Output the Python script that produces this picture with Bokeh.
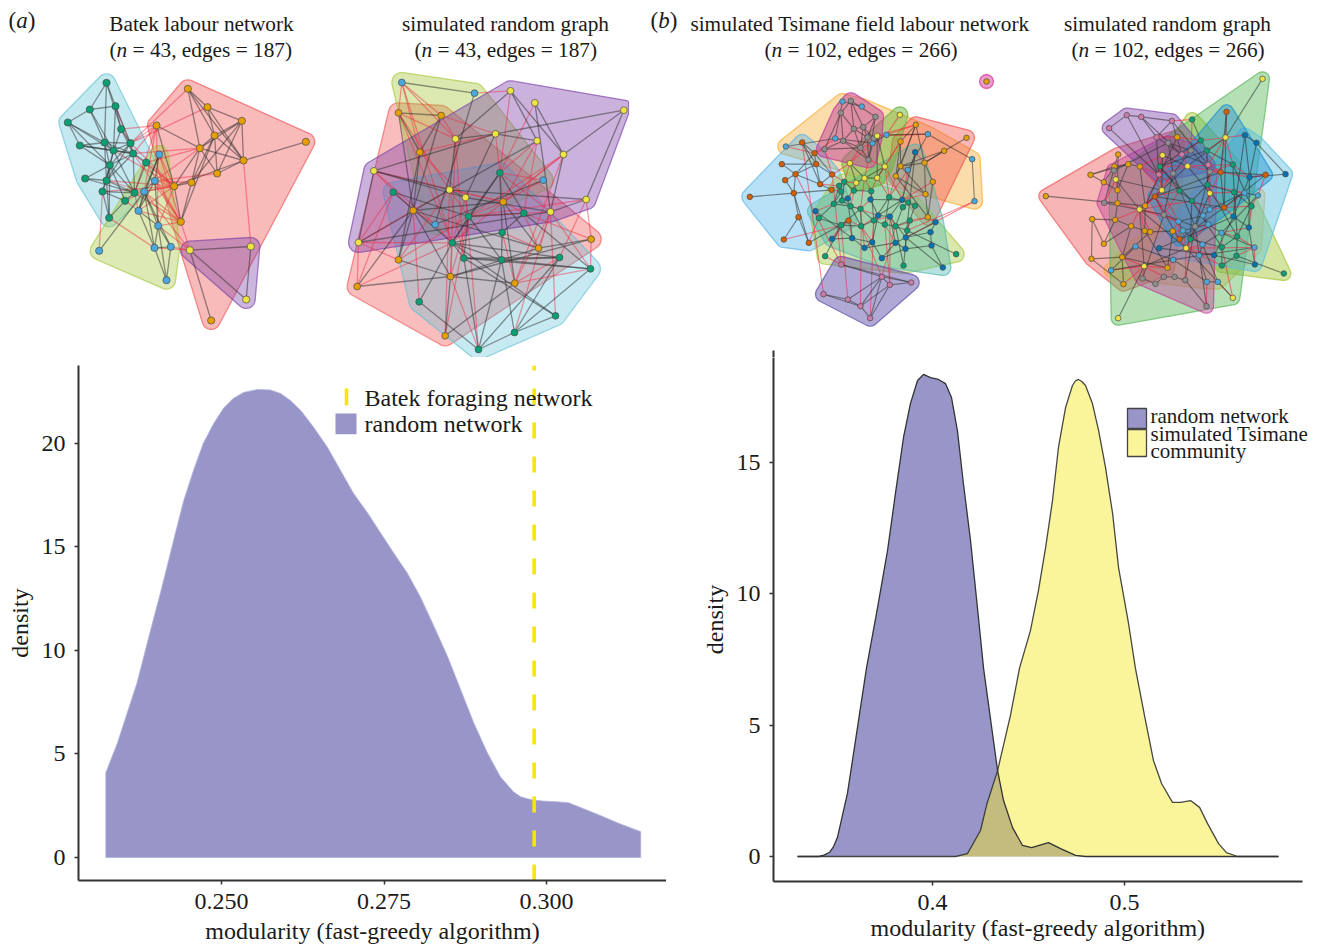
from bokeh.plotting import figure
from bokeh.layouts import row, column
from bokeh.models import Range1d, FixedTicker, Title
from bokeh.core.properties import value
from bokeh.embed import file_html
from bokeh.resources import INLINE
import math

SERIF = "Liberation Serif"

# ---------------- density data ----------------
mod_a = [.2322,.2340,.2355,.2370,.2383,.2395,.2406,.2416,.2429,.2442,.2457,.2472,.2488,.2503,.2518,.2534,.2555,.2575,.2591,.2606,.2622,.2642,.2663,.2683,.2703,.2725,.2745,.2765,.2786,.2806,.2826,.2848,.2868,.2888,.2909,.2929,.2949,.2960,.2971,.2982,.2998,.3014,.3034,.3057,.3080,.3112,.3145]
dens_a = [4.10,5.54,6.99,8.43,10.02,11.47,12.77,14.02,15.66,17.25,18.7,20.0,20.96,21.69,22.17,22.46,22.6,22.58,22.41,22.07,21.59,20.77,19.81,18.7,17.59,16.63,15.66,14.7,13.73,12.58,11.23,9.69,8.1,6.51,5.06,3.9,3.18,2.94,2.84,2.77,2.72,2.7,2.65,2.36,2.07,1.64,1.25]
batek_value = 0.2981

mod_rand = [0.3297,0.3406,0.3435,0.3464,0.3485,0.3505,0.3557,0.3583,0.3656,0.3714,0.3766,0.3807,0.3849,0.3885,0.3922,0.3953,0.3990,0.4031,0.4068,0.4099,0.4130,0.4161,0.4198,0.4234,0.4266,0.4339,0.4370,0.4417,0.4469,0.4516,0.4604,0.4667,0.4745,0.4797,0.5802]
dens_rand = [0,0,0.05,0.16,0.38,0.73,2.4,3.65,7.16,9.48,11.65,13.82,15.95,17.24,18.12,18.35,18.23,18.16,18.0,17.47,16.2,14.2,12.03,9.48,7.16,3.27,2.13,1.1,0.42,0.34,0.53,0.3,0.04,0,0]
mod_tsi = [0.3297,0.4016,0.4120,0.4182,0.4250,0.4284,0.4339,0.4406,0.4453,0.4510,0.4552,0.4589,0.4625,0.4656,0.4693,0.4729,0.4744,0.4760,0.4778,0.4797,0.4833,0.4865,0.4901,0.4938,0.4969,0.5021,0.5057,0.5104,0.5151,0.5193,0.5250,0.5292,0.5344,0.5391,0.5432,0.5490,0.5531,0.5589,0.5656,0.5802]
dens_tsi = [0,0,0,0.11,0.99,2.02,3.27,5.37,7.16,8.6,10.13,11.76,13.55,15.57,17.09,17.93,18.1,18.16,18.08,17.93,17.24,16.22,14.81,13.06,11.0,8.87,7.16,5.37,3.65,2.78,2.06,2.06,2.13,1.87,1.26,0.49,0.15,0,0,0]

xticks_a = [0.25,0.275,0.30]
xlabels_a = ["0.250","0.275","0.300"]
yticks_a = [0,5,10,15,20]
xticks_b = [0.4,0.5]
xlabels_b = ["0.4","0.5"]
yticks_b = [0,5,10,15]

# ---------------- network (a) Batek ----------------
nodes_a = {
 "g":[(318,247),(268,327),(345,317),(202,366),(362,386),(238,435),(312,426),(390,428),(339,450),(398,459),(437,486),(328,494),(254,534),(318,540),(306,573),(402,577),(374,601),(326,652)],
 "b":[(476,462),(463,541),(431,573),(414,631),(473,676),(462,742),(511,739),(296,751),(498,839)],
 "o":[(562,265),(621,320),(724,361),(468,375),(642,405),(916,424),(598,443),(729,480),(650,519),(573,546),(521,557),(541,664),(632,960)],
 "y":[(568,749),(751,738),(737,897)],
}
dark_a = "g0-g1 g0-g2 g0-g4 g1-g2 g1-g3 g1-g6 g2-g4 g2-g7 g3-g5 g3-g6 g3-g8 g4-g7 g4-g9 g5-g6 g5-g8 g5-g11 g6-g8 g6-g7 g6-g9 g7-g8 g7-g9 g7-g11 g8-g9 g8-g11 g8-g13 g9-g10 g9-g11 g9-g15 g11-g12 g11-g13 g11-g14 g12-g13 g12-g15 g13-g14 g13-g17 g13-g15 g14-g15 g14-g16 g14-g17 g16-g17 g15-g16 g8-g15 g11-g15 g10-g15 g0-g6 g1-g8 g2-g8 g3-g11 g5-g9 g6-g11 g6-g13 g7-g13 g4-g8 g9-g13 g11-g16 g11-g17 o0-o4 o0-o6 o0-o1 o1-o2 o1-o4 o1-o7 o2-o4 o2-o6 o2-o7 o2-o8 o3-o6 o4-o6 o4-o7 o4-o8 o4-o9 o5-o7 o6-o7 o6-o8 o6-o9 o6-o10 o7-o8 o7-o10 o9-o10 o9-o11 o4-o11 o10-o11 o0-o7 o2-o9 o3-o10 b0-b1 b0-b2 b1-b2 b2-b3 b2-b4 b3-b4 b3-b5 b4-b5 b4-b6 b4-b8 b5-b6 b5-b8 b6-b8 b1-b3 b2-b5 b2-b6 b1-b4 b7-b2 b0-b3 y0-y1 y0-y2 y1-y2 y0-o12"
red_a = "o3-g4 o3-g7 o3-g9 o0-g7 o1-g7 o6-g9 o6-g10 o10-g7 o10-g9 o10-g10 o10-g15 o10-b0 o10-b1 o10-b2 o11-g9 o11-g10 o11-g15 o11-b0 o11-b1 o11-b2 o11-b3 o11-b4 o3-b2 o3-g15 o7-y1 y0-b4 y0-b5 y0-b6 y0-o11 y0-b2 g17-b5 g14-b7 g2-g9 g8-o10 g13-o10 g14-o10 g16-b3 g16-b2 g15-b3 g13-b2 o9-b1 o8-b1 o6-b1 o10-b4 o3-b4 o10-b3"

# ---------------- network (a) random graph ----------------
nodes_r = {
 "b":[(214,246),(432,278),(638,539),(314,672)],
 "y":[(540,271),(613,307),(880,329),(375,415),(495,400),(620,421),(699,462),(130,511),(357,568),(405,591),(767,597),(660,634),(84,726)],
 "o":[(204,337),(332,345),(268,455),(518,604),(248,630),(782,716),(624,743),(204,778),(360,828),(553,848),(80,858),(344,1006)],
 "g":[(508,517),(188,575),(414,648),(580,638),(515,696),(365,727),(400,773),(513,778),(687,771),(780,805),(266,904),(675,946),(552,996),(444,1047)],
}
dark_r = "y0-y6 y0-y5 y1-y6 y1-y11 y2-y4 y2-y6 y2-y10 y3-y0 y3-y4 y3-y8 y4-y5 y5-y8 y7-y12 y7-y8 y7-y9 y7-y4 y8-y9 y8-y10 y9-y11 y10-y11 y12-y8 y12-y11 y6-y11 y4-y9 o0-o1 o0-o2 o0-o4 o1-o2 o1-o4 o2-o4 o2-o7 o4-o3 o4-o7 o4-o10 o4-o6 o3-o6 o3-o9 o5-o6 o5-o8 o8-o10 o8-o9 o7-o8 o11-o9 o11-o8 o4-o8 o6-o8 g0-g2 g0-g3 g0-g4 g0-g5 g1-g5 g1-g2 g2-g3 g2-g5 g2-g6 g2-g7 g3-g4 g4-g5 g4-g7 g5-g6 g5-g10 g5-g7 g5-g11 g6-g8 g6-g7 g6-g9 g6-g13 g7-g8 g7-g9 g7-g12 g8-g12 g8-g13 g5-g8 g9-g12 g10-g13 g11-g12 g11-g6 g12-g13 g13-g7 g3-g9 b0-b1 b2-b3 b1-b3"
red_r = "b0-o0 b0-o1 b0-o2 b0-y3 b0-g5 b1-y0 y3-o1 y3-o0 y3-g6 y4-g0 y4-o2 y0-g0 y1-g0 y5-g0 y5-g3 y6-o3 y6-g2 y6-g5 y7-o4 y7-o3 y7-b3 y8-o0 y8-o4 y8-g2 y8-g6 y8-o3 y9-g2 y9-o2 y9-g5 y10-g8 y10-o5 y10-g2 y11-g0 y11-g9 y11-o6 y11-g2 y12-g5 y12-o4 y12-g1 y12-o10 y12-o7 o3-g0 o3-g2 o3-g3 o5-g3 o5-g9 o6-g3 o6-g4 o9-g8 o9-y11 o9-y6 o9-g4 o9-g9 o8-g5 o8-y3 o8-g2 o8-g13 o7-y8 o7-g2 o10-g1 o10-g5 o11-g2 o11-y8 o4-g10 g11-y11 g13-y9 g12-y11 b2-g0 b2-o3 b3-o4 b3-g5 o0-g5 o1-y4 y5-o3"

# ---------------- network (b) Tsimane ----------------
nodes_c = {
 "s":[(576,303),(634,318),(554,414),(708,403),(666,428),(406,438),(832,401),(772,508),(965,476),(972,602)],
 "a":[(601,301),(571,337),(675,349),(610,385),(638,380),(578,421),(522,446),(651,411),(670,414),(630,442),(654,478)],
 "v":[(455,426),(492,458),(497,491),(394,491),(435,521),(404,539),(545,522),(509,551),(430,578),(543,568),(298,589),(444,650),(400,717),(475,727),(594,660)],
 "y":[(748,343),(680,406),(598,488),(703,498),(642,533),(680,532),(617,547)],
 "o":[(796,373),(948,412),(881,451),(822,487),(750,423),(750,497),(736,527),(847,544),(825,581),(832,650)],
 "t":[(566,556),(581,544),(572,573),(550,610),(575,600),(600,617),(630,625),(610,570),(662,572),(716,590),(757,620),(773,606),(793,616),(505,653),(572,674),(632,677),(670,660),(703,672),(735,677),(778,660),(770,690),(524,767),(759,795),(917,761)],
 "b":[(794,455),(755,598),(660,597),(592,594),(495,632),(545,715),(605,713),(665,725),(642,742),(694,773),(683,645),(718,648),(855,665),(840,695),(766,711),(735,727),(843,735),(765,745),(877,801)],
 "p":[(572,792),(694,829),(718,853),(782,846),(519,881),(592,897),(630,917),(659,953)],
 "q":[(1008,243)],
}
dark_c = "a0-a1 a0-a2 a0-a3 a0-a4 a1-a3 a1-a5 a1-a6 a2-a4 a2-a7 a3-a4 a3-a5 a3-a9 a4-a7 a4-a9 a5-a6 a5-a9 a5-a10 a6-a9 a7-a9 a7-a10 a9-a10 a2-a10 a3-a7 a8-a10 a8-a4 s0-s2 s0-s1 s5-s2 s3-s4 s6-s8 s8-s9 s6-s7 s4-s2 s3-s6 v0-v1 v0-v2 v1-v2 v1-v4 v2-v3 v2-v4 v2-v7 v3-v4 v4-v5 v4-v7 v4-v8 v5-v8 v6-v7 v7-v9 v8-v10 v8-v9 v8-v11 v8-v13 v11-v12 v13-v11 v2-v6 v0-v7 v1-v6 v14-v13 y2-y4 y2-y6 y3-y5 y4-y5 y4-y6 y3-y4 y1-y3 y1-y5 o0-o4 o0-o3 o0-o5 o0-o6 o1-o3 o2-o3 o2-o5 o3-o5 o3-o8 o5-o6 o5-o8 o6-o8 o4-o5 o7-o9 o7-o3 o8-o9 o6-o9 o4-o6 t0-t1 t0-t2 t1-t7 t2-t3 t2-t4 t3-t4 t3-t5 t4-t5 t5-t6 t5-t15 t6-t15 t6-t16 t7-t8 t8-t16 t13-t14 t13-t3 t14-t15 t15-t16 t16-t17 t17-t18 t18-t19 t18-t20 t19-t20 t9-t11 t11-t12 t9-t17 t12-t19 t21-t14 t22-t20 t23-t20 t22-t18 t16-t9 t1-t4 t0-t3 t6-t14 t10-t11 t10-t18 b1-b10 b1-b11 b2-b10 b3-b6 b4-b6 b5-b6 b6-b7 b6-b8 b7-b8 b7-b9 b8-b15 b9-b15 b9-b17 b10-b11 b10-b7 b11-b15 b11-b14 b12-b13 b13-b14 b13-b16 b14-b15 b14-b17 b15-b17 b16-b17 b16-b18 b14-b18 b0-b1 b0-b14 b12-b14 b2-b1 p0-p1 p0-p3 p1-p2 p2-p3 p1-p3 p1-p5 p1-p6 p2-p7 p4-p5 p5-p6 p6-p7 p1-p7 p4-p6 p2-p6"
red_c = "s5-v1 s2-v1 v0-p4 v4-p0 v6-p0 t21-p0 p5-t14 p6-t15 p7-t16 p1-t15 p2-t17 p1-t18 p2-b11 s9-b14 v12-t14 v13-t13 v9-t0 v9-t2 v7-t0 v6-t1 y2-t1 y2-v6 y6-t1 y6-t7 y6-t5 y4-t8 y5-t8 y3-b1 y3-t9 y0-s3 y1-a7 y1-s6 y1-o0 s3-o0 s4-a9 s4-y2 s2-a5 s7-b1 s7-t9 s7-o5 b0-o3 o6-t9 o7-b1 o8-b1 o9-t19 o9-b12 o9-t18 t5-b10 t6-b8 t15-b10 t16-b10 t17-b11 t18-b11 t17-b15 t15-b7 t16-b7 t19-b14 t6-b2 t8-b2 t11-b1 t3-b4 t13-b4 t14-b5 v14-t14 v14-t15 v14-b5 v14-b6 a10-y4 a10-y3 a6-v1 a6-v6 a9-y2 b3-t4 b3-t7 y4-t6 y5-t9 y6-b3 t16-b11 s9-t20 o4-y3 o4-y5"

# ---------------- network (b) random graph ----------------
nodes_d = {
 "o":[(76,587),(210,523),(293,462),(282,498),(323,491),(250,545),(291,569),(291,608),(374,616),(215,656),(284,658),(250,730),(332,677),(373,691),(389,694),(457,692),(213,775),(305,770),(309,851),(441,802),(358,498),(470,410)],
 "y":[(726,235),(615,411),(426,464),(501,497),(286,537),(424,569),(568,578),(357,627),(497,743),(371,797),(293,953),(637,892)],
 "a":[(251,607),(458,519),(511,450),(443,427),(568,514),(430,643),(524,678),(366,834),(405,850),(430,829),(462,829),(494,839),(558,917),(280,510)],
 "p":[(266,383),(319,344),(362,349),(454,361),(408,410),(484,462),(415,522),(563,493)],
 "t":[(515,357),(541,420),(559,450),(418,498),(637,492),(477,571),(561,553),(514,601),(641,575),(693,617),(650,708),(648,766),(604,795),(510,716),(604,740),(790,819)],
 "v":[(618,334),(600,515),(735,523),(611,621),(403,588),(477,716)],
 "b":[(673,404),(708,427),(795,521),(687,530),(639,648),(685,681),(703,792),(581,764),(416,743)],
 "s":[(672,577),(712,585),(568,627),(548,645),(474,663),(563,672),(487,690),(603,697),(702,741),(345,738),(546,732),(536,765),(458,778),(272,809),(559,844),(592,844)],
}
dark_d = "o0-o7 o1-o3 o1-o4 o1-o5 o2-o3 o2-o6 o3-o4 o3-o5 o4-o6 o4-o20 o5-o6 o6-o7 o7-o8 o7-o10 o9-o10 o9-o11 o9-o16 o10-o12 o10-o11 o11-o12 o12-o13 o13-o14 o14-o15 o16-o17 o16-o18 o17-o18 o17-o19 o8-o13 o8-o20 o8-o21 o12-o17 o13-o19 o14-o17 o15-o19 y0-y1 y10-y9 y1-y3 y2-y3 y2-y5 y3-y5 y3-y6 y5-y7 y6-y8 y7-y8 y7-y9 y8-y9 y4-y5 y4-y7 y8-y11 a0-a13 a0-a5 a1-a2 a1-a3 a2-a3 a2-a4 a1-a5 a1-a6 a4-a6 a5-a6 a7-a8 a8-a9 a9-a10 a10-a11 a11-a12 a6-a12 a5-a7 a6-a11 a3-a13 p0-p1 p1-p2 p2-p3 p3-p5 p1-p6 p2-p4 p2-p5 p4-p5 p4-p6 p5-p7 p3-p7 p0-p6 p3-p4 t0-t1 t1-t2 t1-t3 t2-t3 t2-t6 t2-t4 t3-t5 t3-t7 t5-t6 t5-t7 t6-t7 t4-t8 t6-t8 t8-t9 t8-t10 t9-t10 t10-t11 t10-t14 t11-t12 t12-t14 t7-t13 t13-t14 t7-t14 t11-t15 t4-t9 t6-t10 v0-v1 v0-v3 v1-v2 v1-v3 v2-v3 v3-v5 v4-v5 v1-v4 v3-v4 b0-b1 b0-b3 b1-b2 b1-b3 b2-b3 b3-b4 b3-b5 b4-b5 b5-b6 b4-b7 b6-b7 b7-b8 b4-b8 b0-b4 s0-s1 s0-s2 s2-s3 s3-s4 s3-s5 s4-s6 s5-s6 s5-s7 s6-s10 s7-s10 s7-s8 s10-s11 s11-s12 s9-s12 s9-s13 s13-s12 s11-s14 s14-s15 s10-s15 s12-s14 s8-s11 s1-s7"
red_d = "o8-a1 o8-p6 o8-y5 o20-p6 o20-y5 o21-p4 o13-y7 o14-y7 o15-y8 o15-s4 o15-s6 o19-y9 o19-s12 o18-y9 o12-y7 o17-y9 o10-y7 o7-y7 o3-y4 o6-y4 y5-p6 y5-a1 y5-t3 y3-p6 y3-p5 y3-t3 y3-v1 y3-t4 y1-t1 y1-v0 y1-b0 y1-t2 y1-v1 y1-t4 y1-p7 y6-v1 y6-t6 y6-t8 y6-s2 y6-a4 y6-v3 y7-a5 y7-v4 y7-t7 y7-s4 y8-s5 y8-s6 y8-s10 y8-t13 y8-b7 y8-v5 y8-s8 y8-t12 y11-s15 y11-t14 s0-t6 s0-t8 s0-v3 s1-t9 s1-v2 s2-t6 s2-v3 s2-t7 s3-t7 s4-v5 s5-t13 s7-t14 s7-t10 s8-t10 s8-b6 s8-t11 b3-v1 b3-t4 b3-v2 b4-v3 b4-t8 b5-t9 b5-s7 t5-a1 t5-p6 t6-a4 t6-p7 t3-p6 t2-p7 t1-p5 t0-a2 t0-p3 a4-v1 a4-t4 a6-s5 a6-t13 a5-s4 a5-v4 a5-t5 a9-y9 a12-s14 a11-y8 a7-y9 o21-t1 p5-a2 p7-v1 p7-a4 v5-s6 v4-a5 v4-t5 v3-t9 y5-o8 y2-o20 y2-p6 y2-t3 y4-a0 y9-s13 s4-y5 s6-v4"

# ---------------- colours ----------------
NODE = {"green":"#0A9E73","sky":"#4AA8DC","orange":"#E69F00","yellow":"#F0E442","verm":"#D55E00","gray":"#8E8E8E","blue":"#0072B2","pink":"#CC79A7"}
DARK_EDGE = "#2B2B2B"
RED_EDGE = "#F02840"
PURPLE = "#9896C8"
TSI_YELLOW = "#F4E828"
LINE_YELLOW = "#F7E60C"
AXIS = "#333333"
TEXT = "#1A1A1A"


def convex_hull(pts):
    pts = sorted(set(pts))
    if len(pts) < 3:
        return pts
    def half(seq):
        h = []
        for p in seq:
            while len(h) >= 2 and (h[-1][0]-h[-2][0])*(p[1]-h[-2][1]) - (h[-1][1]-h[-2][1])*(p[0]-h[-2][0]) <= 0:
                h.pop()
            h.append(p)
        return h[:-1]
    return half(pts) + half(pts[::-1])


def rounded(pts, r):
    """outline of the hull grown by r, with round corners"""
    h = convex_hull(pts)
    if len(h) == 1:
        return ([h[0][0]+r*math.cos(i/12*2*math.pi) for i in range(12)],
                [h[0][1]+r*math.sin(i/12*2*math.pi) for i in range(12)])
    xs, ys = [], []
    n = len(h)
    for i in range(n):
        p0, p1, p2 = h[i-1], h[i], h[(i+1) % n]
        a0 = math.atan2(p1[1]-p0[1], p1[0]-p0[0]) - math.pi/2
        a1 = math.atan2(p2[1]-p1[1], p2[0]-p1[0]) - math.pi/2
        while a1 < a0:
            a1 += 2*math.pi
        steps = 8
        for k in range(steps+1):
            a = a0 + (a1-a0)*k/steps
            xs.append(p1[0]+r*math.cos(a))
            ys.append(p1[1]+r*math.sin(a))
    return xs, ys


def draw_net(p, nodes, ox, dark, red, hulls, ncol, node_r, grow, edge_alpha=0.5, red_alpha=0.45, clip=None, w=1.3):
    P = {}
    for k, lst in nodes.items():
        for i, (x, y) in enumerate(lst):
            P[f"{k}{i}"] = (ox + x/3, y/3)
    for k in hulls:
        pts = [(ox + x/3, y/3) for x, y in nodes[k]]
        hx, hy = rounded(pts, grow if len(pts) > 1 else 7)
        if clip:
            hx = [min(v, clip) for v in hx]
        col, al = hulls[k]
        p.patch(hx, hy, fill_color=col, fill_alpha=al, line_color=col, line_alpha=min(1, al+0.25), line_width=1.3)
    for edges, col, al in ((red, RED_EDGE, red_alpha), (dark, DARK_EDGE, edge_alpha)):
        pairs = [e.split("-") for e in edges.split()]
        p.segment([P[a][0] for a, b in pairs], [P[a][1] for a, b in pairs],
                  [P[b][0] for a, b in pairs], [P[b][1] for a, b in pairs],
                  line_color=col, line_alpha=al, line_width=w)
    for k, lst in nodes.items():
        xs = [ox + x/3 for x, y in lst]
        ys = [y/3 for x, y in lst]
        p.scatter(xs, ys, size=node_r*2, fill_color=NODE[ncol[k]], line_color="#4A4A4A", line_width=0.7)


def txt(p, x, y, s, size, italic=False, align="left"):
    p.text([x], [y], text=[s], text_font=value(SERIF), text_font_size=f"{size}px",
           text_color=TEXT, text_baseline="middle", text_align=align,
           text_font_style="italic" if italic else "normal")


def paren_line(p, x, y, sym, rest, size, gap=0.0):
    """'(' + italic symbol + rest, advancing with Times metrics"""
    txt(p, x, y, "(", size)
    txt(p, x+0.333*size, y, sym, size, italic=True)
    txt(p, x+(0.833+gap)*size, y, rest, size)


def blank(w, h, xr, yr, **kw):
    p = figure(width=w, height=h, x_range=Range1d(*xr), y_range=Range1d(*yr),
               x_axis_location=None, y_axis_location=None, toolbar_location=None,
               output_backend="svg", min_border=0, outline_line_color=None, frame_align=False, **kw)
    p.grid.visible = False
    return p


TS = 21.3
# top-left panel, range in page pixels
top_a = blank(648, 357, (0, 648), (357, 0))
draw_net(top_a, nodes_a, 0, dark_a, red_a,
         {"o":("#F05A5A",0.42), "g":("#5BBFD6",0.36), "b":("#A5C83C",0.38), "y":("#7A3FA8",0.38)},
         {"g":"green","b":"sky","o":"orange","y":"yellow"}, 3.6, 9)
draw_net(top_a, nodes_r, 330, dark_r, red_r,
         {"o":("#F05A5A",0.40), "b":("#A5C83C",0.40), "g":("#5BBFD6",0.34), "y":("#7A3FA8",0.40)},
         {"g":"green","b":"sky","o":"orange","y":"yellow"}, 3.4, 10, clip=628)
paren_line(top_a, 8, 20, "a", ")", 23)
txt(top_a, 201, 23, "Batek labour network", TS, align="center")
paren_line(top_a, 109, 49, "n", "= 43, edges = 187)", TS, 0.25)
txt(top_a, 505, 23, "simulated random graph", TS, align="center")
paren_line(top_a, 414, 49, "n", "= 43, edges = 187)", TS, 0.25)

# top-right panel
top_b = blank(677, 357, (648, 1325), (357, 0))
draw_net(top_b, nodes_c, 650, dark_c, red_c,
         {"s":("#F5A623",0.38), "v":("#56B4E9",0.42), "o":("#F0504A",0.42), "t":("#A5C83C",0.42), "b":("#50B8B0",0.42),
          "y":("#6AB83C",0.50), "a":("#C2409A",0.50), "p":("#6A5AAE",0.52), "q":("#D63C9A",0.50)},
         {"s":"sky","a":"gray","v":"verm","y":"yellow","o":"orange","t":"green","b":"blue","p":"pink","q":"orange"},
         2.8, 8, edge_alpha=0.55, red_alpha=0.55, w=1.1)
draw_net(top_b, nodes_d, 1020, dark_d, red_d,
         {"o":("#F05A5A",0.45), "s":("#F5A623",0.30), "t":("#A5C83C",0.48), "y":("#5CB85C",0.45), "b":("#5BBFE0",0.45),
          "a":("#C2409A",0.42), "p":("#7A3FA8",0.42), "v":("#2090D0",0.45)},
         {"o":"orange","y":"yellow","a":"gray","p":"pink","t":"green","v":"verm","b":"blue","s":"sky"},
         2.8, 7, edge_alpha=0.55, red_alpha=0.6, w=1.1)
paren_line(top_b, 650, 20, "b", ")", 23)
txt(top_b, 859.5, 23, "simulated Tsimane field labour network", TS, align="center")
paren_line(top_b, 764, 49, "n", "= 102, edges = 266)", TS, 0.25)
txt(top_b, 1167, 23, "simulated random graph", TS, align="center")
paren_line(top_b, 1071, 49, "n", "= 102, edges = 266)", TS, 0.25)
# the top of the y axis of density (b) reaches into this panel
top_b.line([773, 773], [350, 357], line_color=AXIS, line_width=2)


def style_axes(p, xticks, xlabels, yticks):
    p.grid.visible = False
    p.outline_line_color = None
    p.xaxis.ticker = FixedTicker(ticks=xticks)
    p.xaxis.major_label_overrides = dict(zip(xticks, xlabels))
    p.yaxis.ticker = FixedTicker(ticks=yticks)
    for ax in (p.xaxis[0], p.yaxis[0]):
        ax.axis_line_color = AXIS
        ax.axis_line_width = 2
        ax.major_tick_line_color = AXIS
        ax.major_tick_line_width = 1.5
        ax.major_tick_in = 0
        ax.major_tick_out = 4
        ax.minor_tick_line_color = None
        ax.major_label_text_font = SERIF
        ax.major_label_text_font_size = "24px"
        ax.major_label_text_color = TEXT
        ax.axis_label_text_font = SERIF
        ax.axis_label_text_font_size = "24px"
        ax.axis_label_text_font_style = "normal"
        ax.axis_label_text_color = TEXT
    p.xaxis.major_label_standoff = 9
    p.xaxis.axis_label_standoff = 6
    p.yaxis.major_label_standoff = 9
    p.yaxis.axis_label_standoff = 6


# density (a): frame spans x 78..666, y 365..881 of the page
ax_x = lambda px: 0.25 + (px-221)/6500
ax_y = lambda py: (858-py)/20.75
d_a = figure(width=666, height=589, x_range=Range1d(ax_x(78), ax_x(666)), y_range=Range1d(ax_y(881), ax_y(365)),
             toolbar_location=None, output_backend="svg", min_border_left=78, min_border_right=0,
             min_border_top=8, min_border_bottom=65, frame_align=False,
             x_axis_label="modularity (fast-greedy algorithm)", y_axis_label="density")
style_axes(d_a, xticks_a, xlabels_a, yticks_a)
d_a.patch([mod_a[0]]+mod_a+[mod_a[-1]], [0]+dens_a+[0], fill_color=PURPLE, line_color="#B4B2DC", line_width=0.8)
d_a.line([batek_value, batek_value], [ax_y(881), ax_y(365)], line_color=LINE_YELLOW, line_width=3.6, line_dash="16 18")
d_a.line([ax_x(346), ax_x(346)], [ax_y(388), ax_y(405)], line_color=LINE_YELLOW, line_width=3.6)
d_a.patch([ax_x(335), ax_x(356), ax_x(356), ax_x(335)], [ax_y(413), ax_y(413), ax_y(434), ax_y(434)], fill_color=PURPLE, line_color=None)
txt(d_a, ax_x(364), ax_y(398), "Batek foraging network", 24)
txt(d_a, ax_x(364), ax_y(424), "random network", 24)

# density (b): frame spans x 773..1325, y 357..881 of the page; axis line stops at 1302
bx_x = lambda px: 0.4 + (px-932)/1920
bx_y = lambda py: (856-py)/26.27
d_b = figure(width=659, height=589, x_range=Range1d(bx_x(773), bx_x(1325)), y_range=Range1d(bx_y(881), bx_y(357)),
             toolbar_location=None, output_backend="svg", min_border_left=107, min_border_right=0,
             min_border_top=0, min_border_bottom=65, frame_align=False,
             y_axis_label="density")
style_axes(d_b, xticks_b, xlabels_b, yticks_b)
d_b.xaxis.bounds = (bx_x(773), bx_x(1302))
d_b.add_layout(Title(text="modularity (fast-greedy algorithm)", align="left", offset=97, standoff=0,
                     text_font=SERIF, text_font_size="24px", text_font_style="normal", text_color=TEXT), "below")
d_b.patch(mod_rand, dens_rand, fill_color=PURPLE, line_color=None)
d_b.patch(mod_tsi, dens_tsi, fill_color=TSI_YELLOW, fill_alpha=0.47, line_color=None)
d_b.line(mod_rand, dens_rand, line_color="#333333", line_width=1.3)
d_b.line(mod_tsi, dens_tsi, line_color="#333333", line_width=1.3, line_alpha=0.9)
d_b.patch([bx_x(1127), bx_x(1146), bx_x(1146), bx_x(1127)], [bx_y(408), bx_y(408), bx_y(428), bx_y(428)], fill_color=PURPLE, line_color="#444444", line_width=1.3)
d_b.patch([bx_x(1127), bx_x(1146), bx_x(1146), bx_x(1127)], [bx_y(429), bx_y(429), bx_y(456), bx_y(456)], fill_color=TSI_YELLOW, fill_alpha=0.47, line_color="#444444", line_width=1.3)
txt(d_b, bx_x(1150), bx_y(415), "random network", 21)
txt(d_b, bx_x(1150), bx_y(433), "simulated Tsimane", 21)
txt(d_b, bx_x(1150), bx_y(450), "community", 21)

page = column(row(top_a, top_b, spacing=0), row(d_a, d_b, spacing=0), spacing=0)
open("out.html", "w").write(file_html(page, INLINE))
